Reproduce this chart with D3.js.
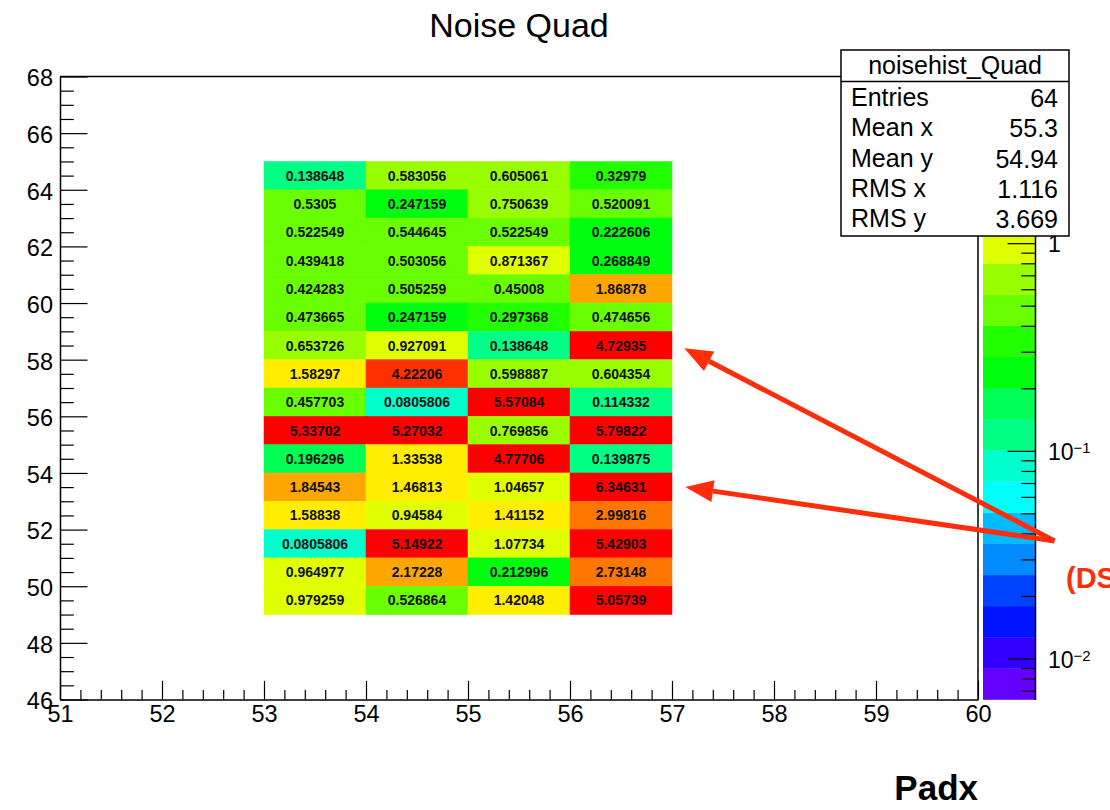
<!DOCTYPE html>
<html>
<head>
<meta charset="utf-8">
<script src="https://cdn.jsdelivr.net/npm/d3@7"></script>
<style>
  body { margin: 0; background: #fff; }
  svg { display: block; }
  text { font-family: "Liberation Sans", Arial, Helvetica, sans-serif; fill: #000; }
</style>
</head>
<body>
<svg id="chart" width="1110" height="810"></svg>
<script>
// ---- Data: noise per pad (Padx columns, Pady rows, top row first) ----
const padxBins = [53, 54, 55, 56];
const padyBins = [64, 63, 62, 61, 60, 59, 58, 57, 56, 55, 54, 53, 52, 51, 50, 49];
const noiseRows = [
  [0.138648, 0.583056, 0.605061, 0.32979],
  [0.5305, 0.247159, 0.750639, 0.520091],
  [0.522549, 0.544645, 0.522549, 0.222606],
  [0.439418, 0.503056, 0.871367, 0.268849],
  [0.424283, 0.505259, 0.45008, 1.86878],
  [0.473665, 0.247159, 0.297368, 0.474656],
  [0.653726, 0.927091, 0.138648, 4.72935],
  [1.58297, 4.22206, 0.598887, 0.604354],
  [0.457703, 0.0805806, 5.57084, 0.114332],
  [5.33702, 5.27032, 0.769856, 5.79822],
  [0.196296, 1.33538, 4.77706, 0.139875],
  [1.84543, 1.46813, 1.04657, 6.34631],
  [1.58838, 0.94584, 1.41152, 2.99816],
  [0.0805806, 5.14922, 1.07734, 5.42903],
  [0.964977, 2.17228, 0.212996, 2.73148],
  [0.979259, 0.526864, 1.42048, 5.05739]
];

// Axis ranges and tick values
const xDomain = [51, 60];
const yDomain = [46, 68];
const xMajorTicks = [51, 52, 53, 54, 55, 56, 57, 58, 59, 60];
const yMajorTicks = [46, 48, 50, 52, 54, 56, 58, 60, 62, 64, 66, 68];
const zMajorTicks = [0.01, 0.1, 1];
const zMajorLabels = [["10", "\u22122"], ["10", "\u22121"], ["1", ""]];

// Statistics box
const statsTitle = "noisehist_Quad";
const statNames = ["Entries", "Mean x", "Mean y", "RMS x", "RMS y"];
const statValues = ["64", "55.3", "54.94", "1.116", "3.669"];

// Annotation arrows (data coordinates: tail -> head)
const arrowTail = [60.75, 51.6];
const arrowHeads = [[57.12, 58.4], [57.13, 53.5]];
const noteText = "(DS";

// ---- Layout ----
const svg = d3.select("#chart");
const frame = { left: 60, right: 978, top: 76.5, bottom: 699.5 };
const x = d3.scaleLinear().domain(xDomain).range([frame.left, frame.right]);
const y = d3.scaleLinear().domain(yDomain).range([frame.bottom, frame.top]);

// Log colour scale: 20 contour levels over three decades below the maximum
const allVals = noiseRows.flat();
const zMax = d3.max(allVals);
const zMin = zMax * 0.001;
const nLevels = 20;
const z = d3.scaleLog().domain([zMin, zMax]).range([frame.bottom, frame.top]);

// 50-colour rainbow palette (hue 280 -> 0)
const nColors = 50;
const palette = d3.range(nColors).map(i => d3.hsl(280 - (i + 1) * (280 / nColors), 1, 0.5).formatHex());
function levelOf(v) {
  const t = (Math.log10(v) - Math.log10(zMin)) / (Math.log10(zMax) - Math.log10(zMin));
  return Math.max(0, Math.min(nLevels - 1, Math.floor(t * nLevels)));
}
function colorOfLevel(k) {
  return palette[Math.min(nColors - 1, Math.floor((k + 0.99) * nColors / nLevels))];
}

// ---- Title ----
svg.append("text")
  .attr("x", 519).attr("y", 36.5)
  .attr("text-anchor", "middle")
  .style("font-size", "34px")
  .text("Noise Quad");

// ---- Heat-map cells ----
const cells = [];
noiseRows.forEach((row, r) => row.forEach((v, c) => cells.push({ px: padxBins[c], py: padyBins[r], v })));

const gCells = svg.append("g");
gCells.selectAll("rect").data(cells).join("rect")
  .attr("x", d => x(d.px))
  .attr("y", d => y(d.py + 1))
  .attr("width", d => x(d.px + 1) - x(d.px))
  .attr("height", d => y(d.py) - y(d.py + 1))
  .attr("fill", d => colorOfLevel(levelOf(d.v)))
  .attr("stroke", d => colorOfLevel(levelOf(d.v)))
  .attr("stroke-width", 0.5);

gCells.selectAll("text").data(cells).join("text")
  .attr("x", d => x(d.px + 0.5))
  .attr("y", d => y(d.py + 0.5))
  .attr("dy", "0.36em")
  .attr("text-anchor", "middle")
  .style("font-size", "14px")
  .style("font-weight", "bold")
  .style("fill", "#111")
  .text(d => String(d.v));

// ---- Axes ----
const xMinor = d3.range(51, 60.001, 0.2).map(v => +v.toFixed(1)).filter(v => !xMajorTicks.includes(v));
const yMinor = d3.range(46, 68.001, 0.5).filter(v => !yMajorTicks.includes(v));

const gx = svg.append("g").attr("transform", `translate(0,${frame.bottom})`);
gx.call(d3.axisBottom(x).tickValues(xMajorTicks).tickFormat(d3.format("d"))
  .tickSize(-18.7).tickSizeOuter(0).tickPadding(6));
gx.append("g").call(d3.axisBottom(x).tickValues(xMinor).tickFormat("")
  .tickSize(-9.4).tickSizeOuter(0))
  .select(".domain").remove();

const gy = svg.append("g").attr("transform", `translate(${frame.left},0)`);
gy.call(d3.axisLeft(y).tickValues(yMajorTicks).tickFormat(d3.format("d"))
  .tickSize(-27.5).tickSizeOuter(0).tickPadding(7));
gy.append("g").call(d3.axisLeft(y).tickValues(yMinor).tickFormat("")
  .tickSize(-13.8).tickSizeOuter(0))
  .select(".domain").remove();

[gx, gy].forEach(g => {
  g.selectAll("text").style("font-size", "23.5px").style("font-family", "'Liberation Sans', Arial, sans-serif");
  g.selectAll("line").attr("stroke", "#000").attr("stroke-width", 1.2);
  g.selectAll(".domain").attr("stroke", "#000").attr("stroke-width", 1.5);
});
gy.selectAll(".tick text").attr("dy", "0.4em");

// Frame border (top and right)
svg.append("path")
  .attr("d", `M${frame.left},${frame.top}H${frame.right}V${frame.bottom}`)
  .attr("fill", "none").attr("stroke", "#000").attr("stroke-width", 1.5);

// ---- Colour bar ----
const bar = { left: 983, right: 1035 };
const levelEdges = d3.range(nLevels + 1).map(k => zMin * Math.pow(zMax / zMin, k / nLevels));
svg.append("g").selectAll("rect").data(d3.range(nLevels)).join("rect")
  .attr("x", bar.left)
  .attr("width", bar.right - bar.left)
  .attr("y", k => z(levelEdges[k + 1]))
  .attr("height", k => z(levelEdges[k]) - z(levelEdges[k + 1]) + 0.3)
  .attr("fill", k => colorOfLevel(k));

const zMinor = [];
[0.001, 0.01, 0.1, 1].forEach(dec => d3.range(2, 10).forEach(m => {
  const v = +(dec * m).toPrecision(3);
  if (v >= zMin && v <= zMax) zMinor.push(v);
}));
const gz = svg.append("g").attr("transform", `translate(${bar.right},0)`);
gz.call(d3.axisRight(z).tickValues(zMajorTicks).tickFormat("").tickSize(-27.5).tickSizeOuter(0));
gz.append("g").call(d3.axisRight(z).tickValues(zMinor).tickFormat("").tickSize(-13.8).tickSizeOuter(0))
  .select(".domain").remove();
gz.selectAll("line").attr("stroke", "#000").attr("stroke-width", 1.2);
gz.selectAll(".domain").attr("stroke", "#000").attr("stroke-width", 1.5);

const zLab = svg.append("g").selectAll("text").data(zMajorTicks).join("text")
  .attr("x", bar.right + 13)
  .attr("y", v => z(v))
  .attr("dy", "0.4em")
  .style("font-size", "23px");
zLab.append("tspan").text((v, i) => zMajorLabels[i][0]);
zLab.append("tspan")
  .attr("dy", "-0.45em")
  .style("font-size", "15px")
  .text((v, i) => zMajorLabels[i][1]);

// ---- Statistics box ----
const box = { x0: 841, x1: 1069, y0: 50, y1: 236, ySep: 81.5 };
const gs = svg.append("g");
gs.append("rect")
  .attr("x", box.x0).attr("y", box.y0)
  .attr("width", box.x1 - box.x0).attr("height", box.y1 - box.y0)
  .attr("fill", "#fff").attr("stroke", "#000").attr("stroke-width", 1.5);
gs.append("line")
  .attr("x1", box.x0).attr("x2", box.x1).attr("y1", box.ySep).attr("y2", box.ySep)
  .attr("stroke", "#000").attr("stroke-width", 1.5);
gs.append("text")
  .attr("x", (box.x0 + box.x1) / 2).attr("y", 74)
  .attr("text-anchor", "middle").style("font-size", "25px")
  .text(statsTitle);
const rowY = d3.scalePoint().domain(statNames).range([106, 227]);
gs.selectAll("text.sn").data(statNames).join("text").attr("class", "sn")
  .attr("x", box.x0 + 10).attr("y", d => rowY(d))
  .style("font-size", "25px").text(d => d);
gs.selectAll("text.sv").data(statValues).join("text").attr("class", "sv")
  .attr("x", box.x1 - 11).attr("y", (d, i) => rowY(statNames[i]) + 1)
  .attr("text-anchor", "end")
  .style("font-size", "25px").text(d => d);

// ---- Axis title ----
svg.append("text")
  .attr("x", frame.right).attr("y", 800)
  .attr("text-anchor", "end")
  .style("font-size", "35px").style("font-weight", "bold")
  .text("Padx");

// ---- Annotation arrows ----
const red = "#ff2d0a";
const gA = svg.append("g");
arrowHeads.forEach(h => {
  const x1 = x(arrowTail[0]), y1 = y(arrowTail[1]);
  const x2 = x(h[0]), y2 = y(h[1]);
  const ang = Math.atan2(y2 - y1, x2 - x1);
  const len = 28, half = 11;
  const bx = x2 - len * Math.cos(ang), by = y2 - len * Math.sin(ang);
  gA.append("line")
    .attr("x1", x1).attr("y1", y1).attr("x2", bx).attr("y2", by)
    .attr("stroke", red).attr("stroke-width", 5);
  gA.append("polygon")
    .attr("points", [
      [x2, y2],
      [bx + half * Math.sin(ang), by - half * Math.cos(ang)],
      [bx - half * Math.sin(ang), by + half * Math.cos(ang)]
    ].map(p => p.join(",")).join(" "))
    .attr("fill", red);
});
svg.append("text")
  .attr("x", 1066).attr("y", 588)
  .style("font-size", "29px").style("font-weight", "bold")
  .style("fill", red)
  .text(noteText);
</script>
</body>
</html>
